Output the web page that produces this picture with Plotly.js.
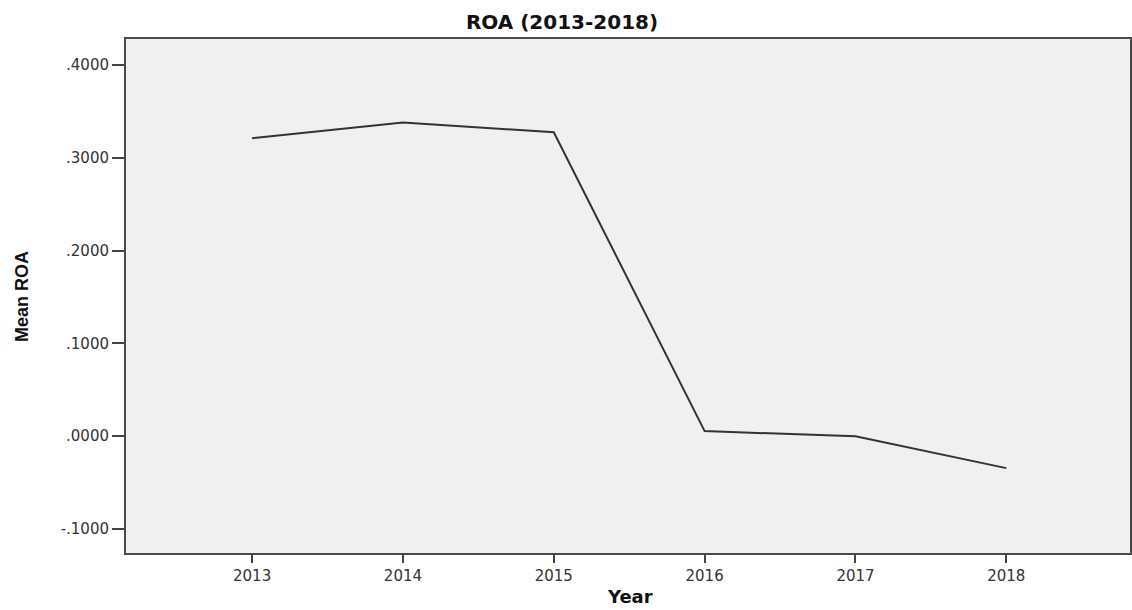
<!DOCTYPE html>
<html>
<head>
<meta charset="utf-8">
<script src="https://cdn.plot.ly/plotly-3.0.1.min.js"></script>
<style>html,body{margin:0;padding:0;background:#fff;}#chart{width:1132px;height:610px;}</style>
</head>
<body>
<div id="chart"></div>
<script>
const years = [2013, 2014, 2015, 2016, 2017, 2018];
const meanROA = [0.321, 0.338, 0.3275, 0.0054, -0.0002, -0.0345];
const yTickVals = [-0.1, 0, 0.1, 0.2, 0.3, 0.4];
const yTickText = ['-.1000', '.0000', '.1000', '.2000', '.3000', '.4000'];
const xTickVals = years;
const xTickText = ['2013', '2014', '2015', '2016', '2017', '2018'];

const trace = {
  x: years,
  y: meanROA,
  type: 'scatter',
  mode: 'lines',
  line: {color: '#333333', width: 2},
  hoverinfo: 'skip'
};

const layout = {
  width: 1132,
  height: 610,
  margin: {l: 126, r: 2, t: 39, b: 57},
  paper_bgcolor: '#ffffff',
  plot_bgcolor: '#f0f0f0',
  showlegend: false,
  title: {
    text: 'ROA (2013-2018)',
    font: {family: 'DejaVu Sans', size: 20, color: '#111111', weight: 'bold'},
    x: 562 / 1132, xref: 'container', xanchor: 'center',
    y: 1 - 22 / 610, yref: 'container', yanchor: 'middle'
  },
  xaxis: {
    range: [2012.164, 2018.82],
    tickvals: xTickVals,
    ticktext: xTickText,
    ticks: 'outside', ticklen: 8, tickwidth: 2, tickcolor: '#444444',
    showline: true, linecolor: '#4a4a4a', linewidth: 2, mirror: true,
    showgrid: false, zeroline: false,
    tickfont: {family: 'DejaVu Sans', size: 15, color: '#333333'}
  },
  yaxis: {
    range: [-0.126, 0.428],
    tickvals: yTickVals,
    ticktext: yTickText,
    ticks: 'outside', ticklen: 12, tickwidth: 2, tickcolor: '#444444',
    showline: true, linecolor: '#4a4a4a', linewidth: 2, mirror: true,
    showgrid: false, zeroline: false,
    tickfont: {family: 'DejaVu Sans', size: 15, color: '#333333'}
  },
  annotations: [
    {
      text: 'Mean ROA', textangle: -90, showarrow: false,
      xref: 'paper', yref: 'paper',
      x: (22 - 126) / 1004, y: (553 - 297) / 514,
      xanchor: 'center', yanchor: 'middle',
      font: {family: 'Liberation Sans', size: 18, color: '#111111', weight: 'bold'}
    },
    {
      text: 'Year', showarrow: false,
      xref: 'paper', yref: 'paper',
      x: (630 - 126) / 1004, y: (553 - 596) / 514,
      xanchor: 'center', yanchor: 'middle',
      font: {family: 'DejaVu Sans', size: 18, color: '#111111', weight: 'bold'}
    }
  ]
};

Plotly.newPlot('chart', [trace], layout, {displayModeBar: false, staticPlot: true});
</script>
</body>
</html>
